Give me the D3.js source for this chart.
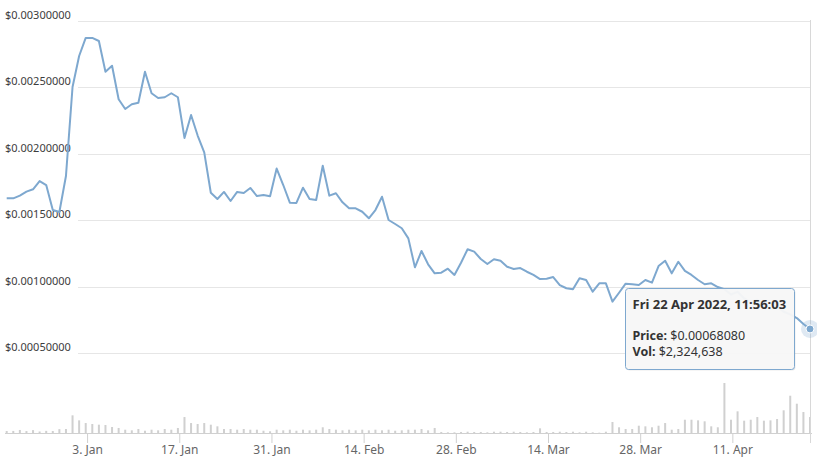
<!DOCTYPE html>
<html>
<head>
<meta charset="utf-8">
<script src="https://cdn.jsdelivr.net/npm/d3@7"></script>
<style>
  body { margin: 0; background: #fff; }
  svg { display: block; font-family: "Segoe UI", "Noto Sans", sans-serif; }
</style>
</head>
<body>
<svg id="chart" width="817" height="461"></svg>
<script>
// daily closes, 21 Dec 2021 -> 22 Apr 2022
const firstDay = new Date(2021, 11, 21, 19, 0);

const prices = [
  0.001663, 0.001663, 0.001683, 0.001713, 0.001731, 0.001793, 0.001763, 0.001575, 0.001560, 0.001831,
  0.002500, 0.002733, 0.002869, 0.002869, 0.002846, 0.002615, 0.002660, 0.002408, 0.002335, 0.002370,
  0.002382, 0.002615, 0.002453, 0.002417, 0.002423, 0.002453, 0.002423, 0.002117, 0.002290, 0.002135,
  0.002008, 0.001705, 0.001658, 0.001711, 0.001643, 0.001711, 0.001703, 0.001741, 0.001680, 0.001688,
  0.001678, 0.001887, 0.001763, 0.001630, 0.001628, 0.001743, 0.001658, 0.001650, 0.001908, 0.001683,
  0.001701, 0.001633, 0.001588, 0.001588, 0.001562, 0.001513, 0.001575, 0.001675, 0.001500, 0.001470,
  0.001438, 0.001362, 0.001144, 0.001267, 0.001167, 0.001099, 0.001104, 0.001134, 0.001087, 0.001179,
  0.001280, 0.001262, 0.001207, 0.001169, 0.001205, 0.001194, 0.001149, 0.001132, 0.001139, 0.001111,
  0.001087, 0.001056, 0.001058, 0.001071, 0.001011, 0.000987, 0.000979, 0.001062, 0.001049, 0.000961,
  0.001024, 0.001024, 0.000886, 0.000953, 0.001021, 0.001017, 0.001011, 0.001049, 0.001029, 0.001154,
  0.001194, 0.001099, 0.001186, 0.001117, 0.001087, 0.001049, 0.001017, 0.001024, 0.000996, 0.000980,
  0.000940, 0.000960, 0.000910, 0.000880, 0.000900, 0.000860, 0.000830, 0.000850, 0.000810, 0.000790,
  0.000763, 0.000718, 0.0006808
];

// volume in millions of USD
const volumes = [
  0.29, 0.30, 0.44, 0.28, 0.42, 0.22, 0.31, 0.29, 0.56, 0.58,
  2.57, 1.84, 1.45, 1.31, 1.21, 1.16, 0.87, 0.73, 0.48, 0.39,
  0.58, 0.33, 0.48, 0.39, 0.58, 0.48, 0.73, 2.32, 1.45, 1.31,
  1.45, 1.21, 0.97, 0.58, 0.58, 0.48, 0.58, 0.48, 0.48, 0.33,
  0.25, 0.48, 0.39, 0.48, 0.33, 0.48, 0.39, 0.48, 0.83, 0.58,
  0.48, 0.39, 0.48, 0.39, 0.48, 0.39, 0.48, 0.39, 0.48, 0.33,
  0.39, 0.48, 0.48, 0.58, 0.39, 0.73, 0.15, 0.10, 0.10, 0.15,
  0.19, 0.15, 0.15, 0.10, 0.19, 0.19, 0.15, 0.19, 0.15, 0.10,
  0.15, 0.68, 0.15, 0.15, 0.19, 0.15, 0.19, 0.10, 0.19, 0.10,
  0.05, 0.19, 1.60, 0.83, 0.58, 0.58, 1.06, 0.97, 0.83, 1.06,
  1.45, 0.48, 0.58, 1.93, 1.93, 1.84, 1.70, 0.97, 0.83, 7.27,
  1.93, 3.15, 1.79, 1.93, 2.32, 1.79, 1.84, 2.03, 3.30, 5.42,
  4.26, 3.05, 2.32
];

const yTicks = [0.0005, 0.001, 0.0015, 0.002, 0.0025, 0.003];
const xTicks = [
  new Date(2022, 0, 3), new Date(2022, 0, 17), new Date(2022, 0, 31), new Date(2022, 1, 14),
  new Date(2022, 1, 28), new Date(2022, 2, 14), new Date(2022, 2, 28), new Date(2022, 3, 11)
];

const tipTitle = 'Fri 22 Apr 2022, 11:56:03';
const tipPrice = '$0.00068080';
const tipVol = '$2,324,638';

const lineColor = '#7eA8cf';
const dates = prices.map((_, i) => d3.timeDay.offset(firstDay, i));
const last = prices.length - 1;

const svg = d3.select('#chart');

const x = d3.scaleTime().domain([dates[0], dates[last]]).range([6.7, 810]);
const y = d3.scaleLinear().domain([0, 0.003]).range([419.5, 20.5]);
const yVol = d3.scaleLinear().domain([0, d3.max(volumes)]).range([433, 383]);

// grid + y labels (labels sit just above their line)
const grid = svg.append('g');
yTicks.forEach((t) => {
  grid.append('line')
    .attr('x1', 78).attr('x2', 810)
    .attr('y1', Math.round(y(t)) + 0.5).attr('y2', Math.round(y(t)) + 0.5)
    .attr('stroke', '#e6e6e6');
  grid.append('text')
    .attr('x', 5).attr('y', y(t) - 2)
    .attr('font-size', 11).attr('fill', '#3d3d3d')
    .text('$' + t.toFixed(8));
});

// volume bars
svg.append('g').selectAll('rect')
  .data(volumes)
  .join('rect')
  .attr('x', (d, i) => x(dates[i]) - 1)
  .attr('width', 2)
  .attr('y', (d) => yVol(d))
  .attr('height', (d) => 433 - yVol(d))
  .attr('fill', '#d0d0d0');

// x axis line + ticks
const xAxis = d3.axisBottom(x)
  .tickValues(xTicks)
  .tickFormat(d3.timeFormat('%-d. %b'))
  .tickSize(10)
  .tickPadding(2);
const ax = svg.append('g').attr('transform', 'translate(0,433)').call(xAxis);
ax.select('.domain').attr('d', 'M5,0.5H812').attr('stroke', '#d0d0d0');
ax.selectAll('.tick line').attr('stroke', '#d0d0d0');
ax.selectAll('.tick text').attr('font-size', 12).attr('fill', '#666')
  .attr('font-family', '"Segoe UI", "Noto Sans", sans-serif');

// crosshair
svg.append('line')
  .attr('x1', x(dates[last]) + 0.5).attr('x2', x(dates[last]) + 0.5)
  .attr('y1', 20).attr('y2', 443)
  .attr('stroke', '#d8d8d8');

// price line
const line = d3.line()
  .x((d, i) => x(dates[i]))
  .y((d) => y(d));

svg.append('path')
  .datum(prices)
  .attr('d', line)
  .attr('fill', 'none')
  .attr('stroke', lineColor)
  .attr('stroke-width', 2)
  .attr('stroke-linejoin', 'round');

// hover marker
const hx = x(dates[last]);
const hy = y(prices[last]);
svg.append('circle').attr('cx', hx).attr('cy', hy).attr('r', 9)
  .attr('fill', lineColor).attr('opacity', 0.25);
svg.append('circle').attr('cx', hx).attr('cy', hy).attr('r', 4)
  .attr('fill', lineColor).attr('stroke', '#fff').attr('stroke-width', 1);

// tooltip
const tip = svg.append('g').attr('transform', 'translate(625.5,288.5)');
tip.append('rect')
  .attr('x', 1).attr('y', 1).attr('width', 169).attr('height', 81).attr('rx', 3)
  .attr('fill', '#000').attr('opacity', 0.08);
tip.append('rect')
  .attr('width', 169).attr('height', 81).attr('rx', 3)
  .attr('fill', '#f7f7f7').attr('fill-opacity', 0.96)
  .attr('stroke', lineColor).attr('stroke-width', 1);
tip.append('text')
  .attr('x', 7).attr('y', 20)
  .attr('font-size', 13).attr('font-weight', 'bold').attr('fill', '#333')
  .text(tipTitle);
const t1 = tip.append('text').attr('x', 7).attr('y', 51).attr('font-size', 12.5).attr('fill', '#333');
t1.append('tspan').attr('font-weight', 'bold').text('Price: ');
t1.append('tspan').text(tipPrice);
const t2 = tip.append('text').attr('x', 7).attr('y', 67.5).attr('font-size', 12.5).attr('fill', '#333');
t2.append('tspan').attr('font-weight', 'bold').text('Vol: ');
t2.append('tspan').text(tipVol);
</script>
</body>
</html>
